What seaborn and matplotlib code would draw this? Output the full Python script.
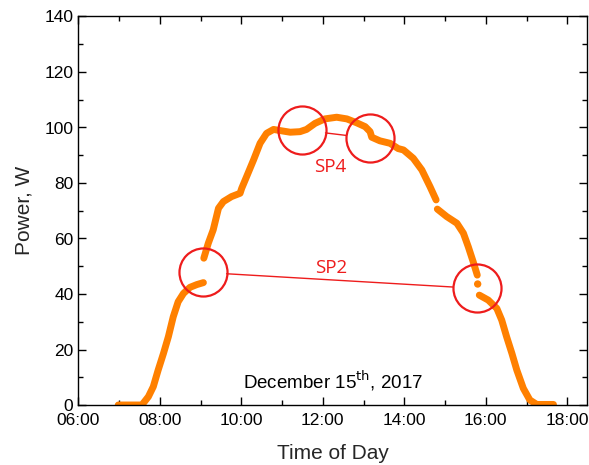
import numpy as np
import pandas as pd
import matplotlib
matplotlib.use("Agg")
import matplotlib.pyplot as plt
import seaborn as sns
from matplotlib.ticker import MultipleLocator, FuncFormatter

sns.set_style("ticks")
plt.rcParams['font.family'] = ['Liberation Sans', 'DejaVu Sans']

# Time of day (hours) and power (W); segments separated by gaps
seg1_t = [6.98, 7.56, 7.72, 7.84, 7.96, 8.09, 8.21, 8.33, 8.45, 8.58, 8.74, 8.91, 9.07]
seg1_p = [0.0, 0.0, 3.0, 6.6, 12.6, 18.6, 24.6, 31.8, 37.2, 40.2, 42.4, 43.4, 44.1]

seg2_t = [9.08, 9.19, 9.31, 9.44, 9.56, 9.76, 9.97, 10.01, 10.13, 10.30, 10.46, 10.62,
          10.79, 10.99, 11.20, 11.44, 11.60, 11.81, 12.05, 12.34, 12.59, 12.83, 13.04,
          13.16, 13.20, 13.40, 13.65, 13.85, 13.98, 14.22, 14.43, 14.63, 14.78]
seg2_p = [52.9, 58.3, 63.1, 70.9, 73.3, 75.1, 76.3, 78.1, 82.3, 88.3, 94.3, 97.9,
          99.3, 98.8, 98.3, 98.5, 99.3, 101.5, 103.1, 103.7, 103.1, 101.7, 100.3,
          98.5, 96.5, 95.2, 94.3, 92.4, 91.9, 88.9, 84.7, 78.7, 73.9]

seg3_t = [14.81, 15.04, 15.29, 15.45, 15.57, 15.69, 15.79]
seg3_p = [70.6, 67.9, 65.5, 61.9, 57.0, 51.6, 46.8]

dot_t = [15.80]
dot_p = [43.6]

seg4_t = [15.84, 16.06, 16.27, 16.39, 16.51, 16.64, 16.76, 16.92, 17.08, 17.25, 17.66]
seg4_p = [39.6, 37.8, 34.8, 30.6, 24.6, 18.6, 12.6, 6.0, 1.8, 0.2, 0.2]

# Annotation circles (time, power)
sp2_t = [9.05, 15.79]
sp2_p = [47.8, 42.0]
sp4_t = [11.48, 13.16]
sp4_p = [99.1, 96.1]

x_ticks = [6, 8, 10, 12, 14, 16, 18]
y_ticks = [0, 20, 40, 60, 80, 100, 120, 140]

orange = "#FF8000"
red = "#EE1C1C"

frames = []
for i, (t, p) in enumerate([(seg1_t, seg1_p), (seg2_t, seg2_p), (seg3_t, seg3_p), (seg4_t, seg4_p)]):
    frames.append(pd.DataFrame({"time": t, "power": p, "seg": i}))
df = pd.concat(frames, ignore_index=True)

fig = plt.figure(figsize=(5.89, 4.65), dpi=100)
ax = fig.add_axes([78.3 / 589, 1 - 405 / 465, (587.3 - 78.3) / 589, (405 - 16.5) / 465])

sns.lineplot(data=df, x="time", y="power", units="seg", estimator=None,
             color=orange, lw=5.0, ax=ax, solid_capstyle="round", solid_joinstyle="round")
sns.scatterplot(x=dot_t, y=dot_p, color=orange, s=28, edgecolor="none", ax=ax)

ax.set_xlim(6, 18.49)
ax.set_ylim(0, 140)

r_pt = 17.3
for ts, ps in [(sp2_t, sp2_p), (sp4_t, sp4_p)]:
    ax.plot(ts, ps, ls="none", marker="o", ms=2 * r_pt, mfc="none", mec=red, mew=1.6, zorder=5)
    ax.annotate("", xy=(ts[1], ps[1]), xytext=(ts[0], ps[0]),
                arrowprops=dict(arrowstyle="-", color=red, lw=1.0,
                                shrinkA=r_pt, shrinkB=r_pt), zorder=5)

ax.text(12.21, 49.5, "SP2", color=red, fontsize=13.5, ha="center", va="center",
        family=["Open Sans", "DejaVu Sans"])
ax.text(12.18, 85.9, "SP4", color=red, fontsize=13.5, ha="center", va="center",
        family=["Open Sans", "DejaVu Sans"])
ax.text(12.25, 8.6, "December 15$^{\\mathrm{th}}$, 2017", color="black", fontsize=13.5,
        ha="center", va="center")

ax.set_xticks(x_ticks)
ax.xaxis.set_major_formatter(FuncFormatter(lambda v, pos: f"{int(v):02d}:00"))
ax.set_yticks(y_ticks)
ax.xaxis.set_minor_locator(MultipleLocator(1))
ax.yaxis.set_minor_locator(MultipleLocator(10))
ax.tick_params(which="both", direction="in", top=True, right=True, colors="black",
               labelsize=12.5, width=1)
ax.tick_params(which="major", length=6)
ax.tick_params(which="minor", length=3.5)
ax.tick_params(axis="x", which="both", pad=6)
for s in ax.spines.values():
    s.set_visible(True)
    s.set_color("black")
    s.set_linewidth(1)

ax.set_xlabel("Time of Day", fontsize=15, labelpad=11)
ax.set_ylabel("Power, W", fontsize=15, labelpad=8)

fig.savefig("out.png", dpi=100)
